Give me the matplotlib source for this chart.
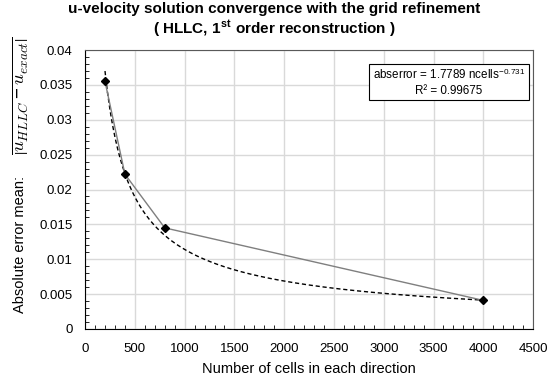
import numpy as np
import matplotlib

matplotlib.use("Agg")
import matplotlib.pyplot as plt
from matplotlib.ticker import MultipleLocator

plt.rcParams["font.family"] = ["Liberation Sans", "DejaVu Sans"]
plt.rcParams["mathtext.fontset"] = "custom"
plt.rcParams["mathtext.rm"] = "Liberation Sans"
plt.rcParams["mathtext.bf"] = "Liberation Sans:bold"
plt.rcParams["mathtext.it"] = "cmmi10"

# data
ncells = [200, 400, 800, 4000]
abserror = [0.0355, 0.0222, 0.0145, 0.0041]

# power trendline shown on the chart
coef_a = 1.7789
coef_b = -0.731
r2 = 0.99675

fig = plt.figure(figsize=(5.49, 3.85), dpi=100)
ax = fig.add_axes([0.155, 0.1455, 0.816, 0.7245])

xt = np.linspace(ncells[0], ncells[-1], 300)
ax.plot(xt, coef_a * xt ** coef_b, color="black", lw=1.0, ls=(0, (3, 2)), zorder=3)
ax.plot(ncells, abserror, color="#7f7f7f", lw=1.0, marker="D", ms=4.5,
        mfc="black", mec="black", zorder=4)

ax.set_xlim(0, 4500)
ax.set_ylim(0, 0.04)
ax.xaxis.set_major_locator(MultipleLocator(500))
ax.xaxis.set_minor_locator(MultipleLocator(100))
ax.yaxis.set_minor_locator(MultipleLocator(0.001))
ax.set_yticks(np.arange(0, 0.0401, 0.005))
ax.set_yticklabels(["0", "0.005", "0.01", "0.015", "0.02", "0.025", "0.03", "0.035", "0.04"])
ax.tick_params(which="major", length=0, labelsize=9.5)
ax.tick_params(axis="x", which="major", pad=10)
ax.tick_params(axis="y", which="major", pad=9)
ax.tick_params(which="minor", direction="in", length=3, color="black")
ax.grid(True, which="major", color="#d9d9d9", lw=1.0)
ax.set_axisbelow(True)

for s in ["left", "bottom"]:
    ax.spines[s].set_color("black")
for s in ["top", "right"]:
    ax.spines[s].set_color("#595959")

ax.set_xlabel("Number of cells in each direction", fontsize=10.5, labelpad=5)

# y label: plain part and a larger math part
fig.text(0.036, 0.364, "Absolute error mean:", rotation=90, fontsize=10.5,
         ha="center", va="center")
fig.text(0.036, 0.752, r"$\overline{\left|u_{HLLC} - u_{exact}\right|}$", rotation=90,
         fontsize=13.5, ha="center", va="center")

fig.suptitle("u-velocity solution convergence with the grid refinement\n"
             r"( HLLC, 1$^{\mathbf{st}}$ order reconstruction )",
             fontsize=11, fontweight="bold", y=0.995, linespacing=1.15)

ax.text(0.8125, 0.885,
        "abserror = %.4f ncells$^{\\mathrm{%.3f}}$\nR\u00b2 = %.5f" % (coef_a, coef_b, r2),
        transform=ax.transAxes, ha="center", va="center", fontsize=8.4,
        multialignment="center", linespacing=1.3,
        bbox=dict(boxstyle="square,pad=0.3", fc="white", ec="black", lw=0.8))

plt.savefig("out.png", dpi=100)
